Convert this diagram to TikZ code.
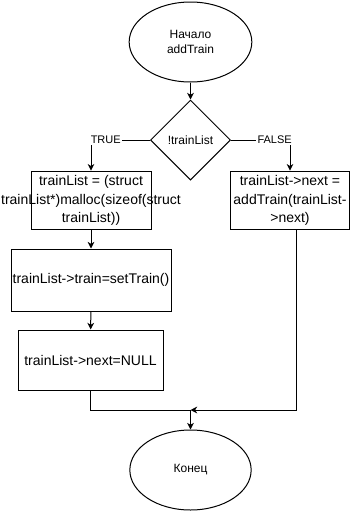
\documentclass[tikz,border=0pt]{standalone}
\usepackage{fontspec}
\setmainfont{Liberation Sans}
\usetikzlibrary{shapes.geometric, arrows.meta}

\begin{document}
\begin{tikzpicture}[x=0.75pt, y=-0.75pt, line width=0.75pt,
  >={Stealth[length=5pt, width=5pt, inset=1.5pt]},
  term/.style={draw, ellipse, inner sep=0pt, minimum height=60pt, align=center, font=\fontsize{9}{11}\selectfont},
  cond/.style={draw, diamond, inner sep=0pt, minimum width=60pt, minimum height=60pt, font=\fontsize{9}{11}\selectfont},
  proc/.style={draw, rectangle, inner sep=0pt, align=center, font=\fontsize{10.5}{14}\selectfont},
  lbl/.style={fill=white, inner sep=1pt, font=\fontsize{8.25}{10}\selectfont}]
\useasboundingbox (0,0) rectangle (351,511);

\node[term, minimum width=92pt] (start) at (190.5,42) {Начало\\addTrain};
\node[cond] (check) at (190.5,140) {!trainList};

% TRUE branch
\node[proc, minimum width=90pt, minimum height=44pt,
  label={[align=center, font=\fontsize{10.5}{14}\selectfont]center:trainList = (struct\\trainList*)malloc(sizeof(struct\\trainList))}]
  (alloc) at (91,200.5) {};
\node[proc, minimum width=120pt, minimum height=46.5pt] (settrain) at (91,280) {trainList->train=setTrain()};
\node[proc, minimum width=108.75pt, minimum height=45pt] (setnull) at (90.5,360) {trainList->next=NULL};

% FALSE branch
\node[proc, minimum width=89.25pt, minimum height=44pt] (recur) at (290,200.5) {trainList->next =\\addTrain(trainList-\\>next)};

\node[term, minimum width=91pt] (stop) at (190.5,470) {Конец};
\coordinate (join) at (190.5,410);

\draw[->] (start) -- (check);
\draw[->] (check.west) -| node[lbl, pos=0.375] {TRUE} (alloc.north);
\draw[->] (check.east) -| node[lbl, pos=0.37] {FALSE} (recur.north);
\draw[->] (alloc) -- (settrain);
\draw[->] (settrain) -- (setnull);
\draw (setnull.south) |- (join);
\draw[->] ([xshift=4.5pt]recur.south) |- (join);
\draw[->] (join) -- (stop);
\end{tikzpicture}
\end{document}
